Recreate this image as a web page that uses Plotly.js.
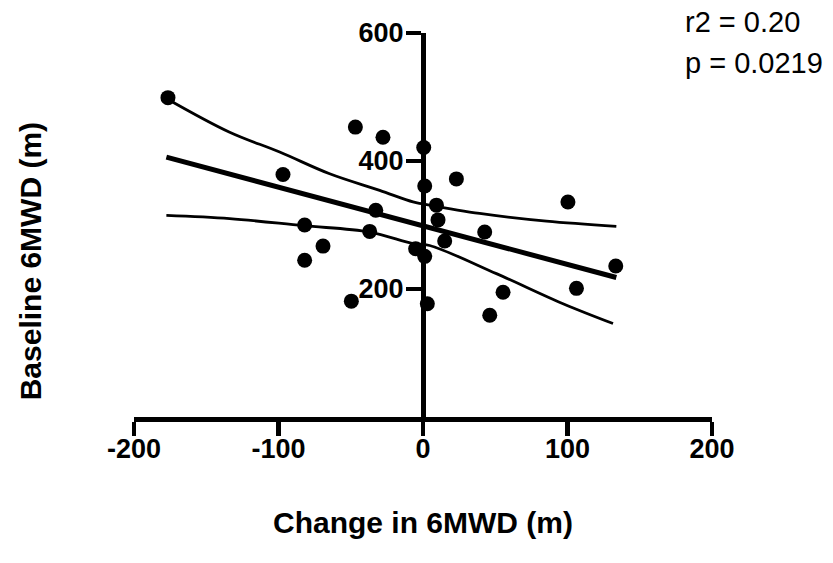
<!DOCTYPE html>
<html>
<head>
<meta charset="utf-8">
<script src="https://cdn.plot.ly/plotly-3.0.1.min.js"></script>
<style>html,body{margin:0;padding:0;background:#fff;}#chart{width:833px;height:563px;}</style>
</head>
<body>
<div id="chart"></div>
<script>
// Scatter data: change in 6MWD (x) vs baseline 6MWD (y)
const changeX = [-176.5, -46.8, -27.7, 0.5, -96.9, 23.1, 1.2, 100.3, 9.3, -32.7, 10.4, -81.9, 42.7, -36.9, 15.0, -69.2, -5.1, 1.2, -81.9, 133.4, 106.2, 55.4, -49.6, 3.0, 46.2];
const baselineY = [499, 453, 437, 421, 379, 372, 361, 336, 331, 323, 308, 300, 289, 290, 275, 267, 263, 251, 245, 236, 201, 195, 181, 177, 159];

// Regression line
const fitX = [-177.6, 133.8];
const fitY = [406, 218];

// Confidence band curves
const upperX = [-177, -133.8, -99.2, -64.6, -30, -6.9, 0, 39.2, 85.4, 133.8];
const upperY = [497, 445, 414, 380, 354, 336, 333, 318, 306, 298];
const lowerX = [-177.6, -133.8, -83, -36.9, -6.9, 4.6, 50.8, 96.9, 131.5];
const lowerY = [315, 310, 299, 289, 271, 268, 224, 177, 146];

// Axis ticks
const xTicks = [-200, -100, 0, 100, 200];
const xTickText = ['-200', '-100', '0', '100', '200'];
const yTicks = [200, 400, 600];
const yTickText = ['200', '400', '600'];

const statsLines = ['r2 = 0.20', 'p = 0.0219'];

const fam = 'Arial, "Liberation Sans", Helvetica, sans-serif';

const traces = [
  {x: upperX, y: upperY, mode: 'lines', line: {color: '#000', width: 2.8, shape: 'spline'}, hoverinfo: 'skip', showlegend: false},
  {x: lowerX, y: lowerY, mode: 'lines', line: {color: '#000', width: 2.8, shape: 'spline'}, hoverinfo: 'skip', showlegend: false},
  {x: fitX, y: fitY, mode: 'lines', line: {color: '#000', width: 5}, hoverinfo: 'skip', showlegend: false},
  {x: changeX, y: baselineY, mode: 'markers', marker: {color: '#000', size: 15}, cliponaxis: false, showlegend: false}
];

const layout = {
  width: 833, height: 563,
  margin: {l: 134, r: 121, t: 33, b: 146, pad: 0},
  paper_bgcolor: '#fff', plot_bgcolor: '#fff',
  showlegend: false,
  xaxis: {
    range: [-200, 200], tickvals: xTicks, ticktext: xTickText,
    showgrid: false, zeroline: false,
    showline: true, linecolor: '#000', linewidth: 4.5,
    ticks: 'outside', ticklen: 14, tickwidth: 4.5, tickcolor: '#000',
    tickfont: {family: fam, size: 27, color: '#000', weight: 700},
    ticklabelstandoff: -10,
    fixedrange: true
  },
  yaxis: {
    range: [0, 600], tickvals: yTicks, ticktext: yTickText,
    anchor: 'free', position: 0.5,
    showgrid: false, zeroline: false,
    showline: true, linecolor: '#000', linewidth: 4.5,
    ticks: 'outside', ticklen: 15, tickwidth: 4.5, tickcolor: '#000',
    tickfont: {family: fam, size: 27, color: '#000', weight: 700},
    ticklabelstandoff: -3,
    fixedrange: true
  },
  annotations: [
    {text: 'Change in 6MWD (m)', xref: 'paper', yref: 'paper', x: 0.5, y: (416.5 - 522) / 383.5, xanchor: 'center', yanchor: 'middle', showarrow: false,
     font: {family: fam, size: 30, color: '#000', weight: 700}},
    {text: 'Baseline 6MWD (m)', xref: 'paper', yref: 'paper', x: (30 - 134) / 578, y: (416.5 - 261) / 383.5, xanchor: 'center', yanchor: 'middle', textangle: -90, showarrow: false,
     font: {family: fam, size: 30, color: '#000', weight: 700}},
    {text: statsLines[0], xref: 'paper', yref: 'paper', x: (683 - 134) / 578, y: (416.5 - 22) / 383.5, xanchor: 'left', yanchor: 'middle', showarrow: false,
     font: {family: fam, size: 29, color: '#000'}},
    {text: statsLines[1], xref: 'paper', yref: 'paper', x: (683 - 134) / 578, y: (416.5 - 63) / 383.5, xanchor: 'left', yanchor: 'middle', showarrow: false,
     font: {family: fam, size: 29, color: '#000'}}
  ]
};

Plotly.newPlot('chart', traces, layout, {staticPlot: true, displayModeBar: false});
</script>
</body>
</html>
